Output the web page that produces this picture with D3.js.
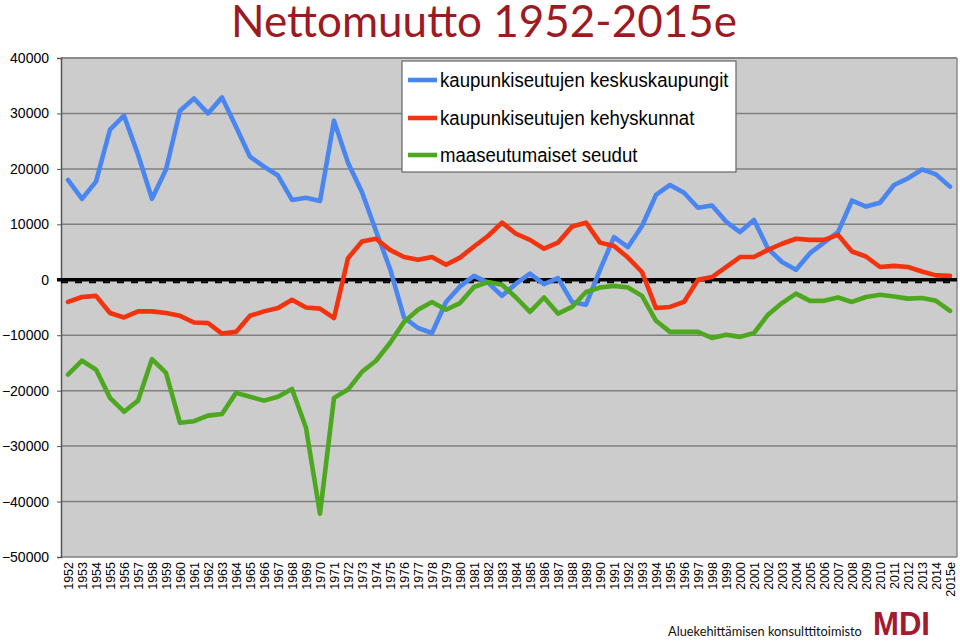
<!DOCTYPE html>
<html>
<head>
<meta charset="utf-8">
<script src="https://cdn.jsdelivr.net/npm/d3@7"></script>
<style>
  html, body { margin: 0; padding: 0; background: #fff; }
  svg { display: block; }
</style>
</head>
<body>
<svg id="chart" width="960" height="641"></svg>
<script>
const years = ["1952","1953","1954","1955","1956","1957","1958","1959","1960","1961",
  "1962","1963","1964","1965","1966","1967","1968","1969","1970","1971",
  "1972","1973","1974","1975","1976","1977","1978","1979","1980","1981",
  "1982","1983","1984","1985","1986","1987","1988","1989","1990","1991",
  "1992","1993","1994","1995","1996","1997","1998","1999","2000","2001",
  "2002","2003","2004","2005","2006","2007","2008","2009","2010","2011",
  "2012","2013","2014","2015e"];

const keskuskaupungit = [18000,14600,17700,27100,29600,22600,14600,19900,30500,32700,
  30000,32900,27600,22200,20400,18800,14400,14800,14200,28700,
  21100,15800,8800,2000,-6800,-8700,-9600,-4000,-1200,700,
  -500,-2900,-700,1100,-800,300,-4000,-4500,1800,7700,
  5900,9700,15300,17100,15700,13000,13400,10500,8600,10800,
  5600,3200,1800,4800,6700,8600,14300,13200,13900,17100,
  18300,19900,19000,16800];

const kehyskunnat = [-4000,-3100,-2900,-6000,-6800,-5700,-5700,-6000,-6500,-7700,
  -7800,-9700,-9400,-6500,-5700,-5100,-3600,-5000,-5200,-6900,
  3900,6900,7400,5400,4100,3600,4100,2700,4000,6000,
  7900,10300,8300,7200,5600,6700,9600,10300,6700,6100,
  4000,1400,-5100,-4900,-4000,0,500,2300,4100,4100,
  5400,6500,7400,7200,7200,8100,5100,4200,2300,2500,
  2300,1500,800,700];

const maaseutumaiset = [-17100,-14600,-16200,-21300,-23800,-21800,-14300,-16800,-25800,-25500,
  -24500,-24200,-20400,-21100,-21800,-21100,-19700,-26700,-42200,-21300,
  -19800,-16600,-14600,-11400,-7600,-5400,-4000,-5400,-4200,-1300,
  -400,-900,-3200,-5800,-3200,-6100,-4900,-2200,-1400,-1100,
  -1400,-2900,-7400,-9400,-9400,-9400,-10500,-9900,-10300,-9600,
  -6300,-4200,-2500,-3800,-3800,-3200,-4000,-3100,-2700,-3000,
  -3400,-3300,-3800,-5600];

const yTicks = [40000,30000,20000,10000,0,-10000,-20000,-30000,-40000,-50000];

const seriesNames = ["kaupunkiseutujen keskuskaupungit","kaupunkiseutujen kehyskunnat","maaseutumaiset seudut"];
const seriesColors = ["#4a86f0","#f2330e","#4ea81f"];
const seriesData = [keskuskaupungit, kehyskunnat, maaseutumaiset];

const svg = d3.select("#chart");
const L = 61, R = 957, T = 58, B = 557;

const x = d3.scalePoint().domain(years).range([L, R]).padding(0.5);
const y = d3.scaleLinear().domain([-50000, 40000]).range([B, T]);

// plot background
svg.append("rect").attr("x", L).attr("y", T).attr("width", R - L).attr("height", B - T)
  .attr("fill", "#cccccc");

// gridlines
svg.append("g").selectAll("line").data(yTicks).join("line")
  .attr("x1", L).attr("x2", R)
  .attr("y1", d => y(d)).attr("y2", d => y(d))
  .attr("stroke", "#7f7f7f").attr("stroke-width", 1.5);

// borders
svg.append("line").attr("x1", R).attr("x2", R).attr("y1", T).attr("y2", B)
  .attr("stroke", "#8a8a8a").attr("stroke-width", 1.5);
svg.append("line").attr("x1", L).attr("x2", R).attr("y1", T).attr("y2", T)
  .attr("stroke", "#8a8a8a").attr("stroke-width", 2);

// y axis
const yAxis = svg.append("g").attr("transform", `translate(${L},0)`)
  .call(d3.axisLeft(y).tickValues(yTicks).tickSize(4).tickPadding(8).tickFormat(d3.format("d")));
yAxis.select(".domain").attr("stroke", "#555").attr("stroke-width", 1.5);
yAxis.selectAll(".tick line").attr("stroke", "#555");
yAxis.selectAll("text").attr("font-family", "Liberation Sans, Arial, sans-serif")
  .attr("font-size", 14).attr("fill", "#000");

// zero line with category ticks
svg.append("line").attr("x1", L - 4).attr("x2", R).attr("y1", y(0)).attr("y2", y(0))
  .attr("stroke", "#000").attr("stroke-width", 3.5);
svg.append("line").attr("x1", L).attr("x2", R).attr("y1", y(0) + 2.5).attr("y2", y(0) + 2.5)
  .attr("stroke", "#000").attr("stroke-width", 2).attr("stroke-dasharray", "7,7")
  .attr("stroke-dashoffset", 0);

// x labels
const xAxis = svg.append("g").attr("transform", `translate(0,${B})`)
  .call(d3.axisBottom(x).tickSize(0).tickPadding(0));
xAxis.select(".domain").remove();
xAxis.selectAll("text")
  .attr("font-family", "Liberation Sans, Arial, sans-serif")
  .attr("font-size", 12.5).attr("fill", "#000")
  .attr("text-anchor", "end")
  .attr("transform", "rotate(-90)")
  .attr("x", -5).attr("y", 0).attr("dy", "0.35em");

// lines
const line = d3.line().x((d, i) => x(years[i])).y(d => y(d));
seriesData.forEach((s, k) => {
  svg.append("path").datum(s).attr("d", line)
    .attr("fill", "none").attr("stroke", seriesColors[k]).attr("stroke-width", 4.6)
    .attr("stroke-linejoin", "round").attr("stroke-linecap", "round");
});

// legend
const lg = svg.append("g");
lg.append("rect").attr("x", 402).attr("y", 61).attr("width", 334).attr("height", 111)
  .attr("fill", "#fff").attr("stroke", "#666").attr("stroke-width", 1.2);
const rows = [80, 118, 155];
seriesNames.forEach((n, k) => {
  lg.append("line").attr("x1", 408).attr("x2", 437).attr("y1", rows[k]).attr("y2", rows[k])
    .attr("stroke", seriesColors[k]).attr("stroke-width", 4.6);
  const t = lg.append("text").attr("x", 440).attr("y", rows[k] + 7).text(n)
    .attr("font-family", "Liberation Sans, Arial, sans-serif").attr("font-size", 20).attr("fill", "#000");
  const w = t.node().getComputedTextLength();
  t.attr("textLength", w * 0.93).attr("lengthAdjust", "spacingAndGlyphs");
});

// title
const title = svg.append("text").attr("x", 484).attr("y", 37).text("Nettomuutto 1952-2015e")
  .attr("text-anchor", "middle")
  .attr("font-family", "Lato, Open Sans, sans-serif").attr("font-size", 44)
  .attr("fill", "#9d1a22");
{
  const w = title.node().getComputedTextLength();
  title.attr("font-size", 44 * 506 / w);
}

// footer
const foot = svg.append("text").attr("x", 668).attr("y", 636).text("Aluekehittämisen konsulttitoimisto")
  .attr("font-family", "Lato, Open Sans, sans-serif").attr("font-size", 14).attr("fill", "#111");
{
  const w = foot.node().getComputedTextLength();
  foot.attr("font-size", 14 * 194 / w);
}
svg.append("text").attr("x", 873).attr("y", 635).text("MDI")
  .attr("font-family", "Liberation Sans, Arial, sans-serif").attr("font-weight", "bold")
  .attr("font-size", 33).attr("fill", "#a3192f")
  .attr("textLength", 57).attr("lengthAdjust", "spacingAndGlyphs");
</script>
</body>
</html>
